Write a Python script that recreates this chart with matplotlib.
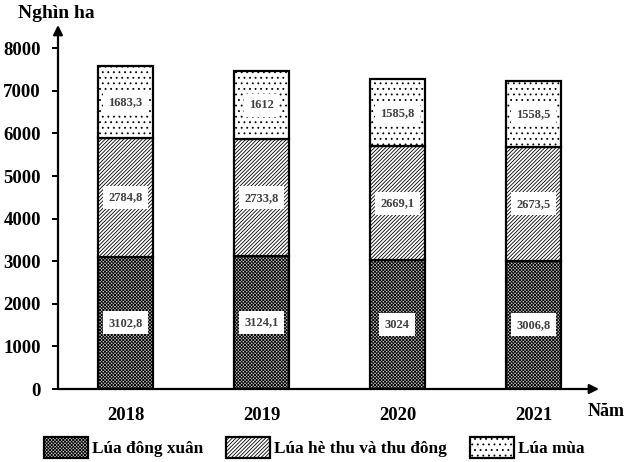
import matplotlib
matplotlib.use("Agg")
import matplotlib.pyplot as plt
from matplotlib.patches import Patch
import numpy as np

years = ["2018", "2019", "2020", "2021"]
dong_xuan = [3102.8, 3124.1, 3024, 3006.8]
he_thu = [2784.8, 2733.8, 2669.1, 2673.5]
lua_mua = [1683.3, 1612, 1585.8, 1558.5]
dong_xuan_lbl = ["3102,8", "3124,1", "3024", "3006,8"]
he_thu_lbl = ["2784,8", "2733,8", "2669,1", "2673,5"]
lua_mua_lbl = ["1683,3", "1612", "1585,8", "1558,5"]
series_names = ["Lúa đông xuân", "Lúa hè thu và thu đông", "Lúa mùa"]
yticks = [0, 1000, 2000, 3000, 4000, 5000, 6000, 7000, 8000]

plt.rcParams['font.family'] = ['Liberation Serif', 'DejaVu Serif']
plt.rcParams['hatch.linewidth'] = 0.6

fig = plt.figure(figsize=(6.27, 4.62), dpi=100)
ax = fig.add_axes([58/627, 1-389/462, 541/627, 364/462])

x = np.arange(len(years))
w = 0.40
styles = [dict(facecolor='#c4c4c4', hatch='xxxxxxxxxx'),
          dict(facecolor='white', hatch='/////////'),
          dict(facecolor='white', hatch='...')]
bottom = np.zeros(len(years))
handles = []
for vals, lbls, st, name in zip([dong_xuan, he_thu, lua_mua],
                                [dong_xuan_lbl, he_thu_lbl, lua_mua_lbl],
                                styles, series_names):
    vals = np.array(vals)
    ax.bar(x, vals, w, bottom=bottom, edgecolor='black', linewidth=1.6, **st)
    for xi, b, v, l in zip(x, bottom, vals, lbls):
        ax.text(xi, b + v/2, l, ha='center', va='center', fontsize=9,
                fontweight='bold', color='#404040',
                bbox=dict(facecolor='white', edgecolor='none', pad=4))
    handles.append(Patch(edgecolor='black', linewidth=1.6, label=name, **st))
    bottom += vals

ax.set_xlim(-0.496, 3.482)
ax.set_ylim(0, 8545)
for s in ['top', 'right', 'left', 'bottom']:
    ax.spines[s].set_visible(False)
ax.annotate('', xy=(0, 1), xytext=(0, 0), xycoords='axes fraction',
            arrowprops=dict(arrowstyle='-|>', lw=1.6, color='black', mutation_scale=14,
                            shrinkA=0, shrinkB=0), annotation_clip=False)
ax.annotate('', xy=(1, 0), xytext=(0, 0), xycoords='axes fraction',
            arrowprops=dict(arrowstyle='-|>', lw=1.6, color='black', mutation_scale=14,
                            shrinkA=0, shrinkB=0), annotation_clip=False)

ax.set_yticks(yticks)
ax.set_yticklabels([str(t) for t in yticks], fontsize=13.5, fontweight='bold')
ax.tick_params(axis='y', direction='out', length=4.3, width=1.4, pad=8)
ax.set_xticks(x)
ax.set_xticklabels(years, fontsize=13.5, fontweight='bold')
ax.tick_params(axis='x', length=0, pad=13)

fig.text(18/627, 1-14/462, "Nghìn ha", fontsize=14, fontweight='bold', va='center', ha='left')
fig.text(606/627, 1-412/462, "Năm", fontsize=13, fontweight='bold', va='center', ha='center')

fig.legend(handles=handles, loc='center left', bbox_to_anchor=(44/627, 1-447.5/462),
           ncol=3, frameon=False, borderpad=0, borderaxespad=0,
           handlelength=2.56, handleheight=1.45, handletextpad=0.23, columnspacing=1.34,
           prop=dict(family='Liberation Serif', weight='bold', size=12.4))

fig.savefig("out.png", dpi=100)
